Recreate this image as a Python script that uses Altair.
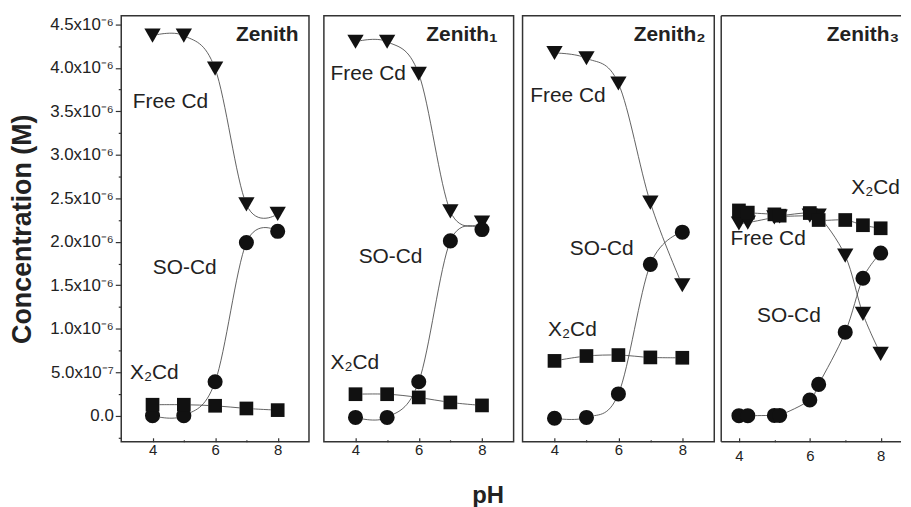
import altair as alt
import pandas as pd

# ---------------- data (concentrations in units of 1e-6 M) ----------------
panel_names = ["Zenith", "Zenith₁", "Zenith₂", "Zenith₃"]
series_names = ["Free Cd", "SO-Cd", "X₂Cd"]

ph_std = [4, 5, 6, 7, 8]
ph_z3 = [4.0, 4.25, 5.0, 5.15, 6.0, 6.25, 7.0, 7.5, 8.0]

z0_free = [4.37, 4.37, 3.99, 2.43, 2.32]
z0_so = [0.00, 0.00, 0.39, 1.99, 2.12]
z0_x2 = [0.126, 0.126, 0.114, 0.083, 0.064]

z1_free = [4.30, 4.30, 3.93, 2.35, 2.22]
z1_so = [-0.02, -0.02, 0.39, 2.01, 2.14]
z1_x2 = [0.247, 0.247, 0.210, 0.152, 0.118]

z2_free = [4.17, 4.11, 3.82, 2.45, 1.50]
z2_so = [-0.03, -0.02, 0.25, 1.74, 2.11]
z2_x2 = [0.630, 0.686, 0.697, 0.670, 0.666]

z3_free = [2.21, 2.22, 2.28, 2.29, 2.30, 2.30, 1.84, 1.17, 0.71]
z3_so = [0.00, 0.00, 0.003, 0.003, 0.18, 0.36, 0.96, 1.58, 1.87]
z3_x2 = [2.36, 2.335, 2.315, 2.30, 2.33, 2.25, 2.25, 2.19, 2.155]

# in-panel series label anchors (pH, concentration)
lbl_free_x = [3.37, 3.21, 3.24, 3.76]
lbl_free_y = [3.61, 3.93, 3.67, 2.03]
lbl_so_x = [4.01, 4.10, 4.48, 4.51]
lbl_so_y = [1.70, 1.82, 1.92, 1.15]
lbl_x2_x = [3.28, 3.21, 3.80, 7.17]
lbl_x2_y = [0.49, 0.60, 0.99, 2.62]

panel_ph = [ph_std, ph_std, ph_std, ph_z3]
panel_vals = [
    (z0_free, z0_so, z0_x2),
    (z1_free, z1_so, z1_x2),
    (z2_free, z2_so, z2_x2),
    (z3_free, z3_so, z3_x2),
]

# ---------------- layout / style ----------------
FONT = "Liberation Sans"
widths = [189, 191, 193, 181]
x_domains = [[3, 9], [3, 9], [3, 9], [3.5, 3.5 + 181 / 35.67]]
title_x = [147, 139, 148, 179]
title_align = ["center", "center", "center", "right"]
H = 429
Y_DOMAIN = [-0.3, 4.6]

shape_scale = alt.Scale(domain=series_names, range=["triangle-down", "circle", "square"])
size_black = alt.Scale(domain=series_names, range=[120, 90, 72])
size_halo = alt.Scale(domain=series_names, range=[270, 190, 160])

y_vals = [-0.25 + 0.25 * k for k in range(20)]
minor_test = "abs(datum.value * 4 % 2) == 1"
y_label_expr = (
    "abs(datum.value * 4 % 2) == 1 ? '' : datum.value == 0 ? '0.0' : "
    "datum.value == 0.5 ? '5.0x10⁻⁷' : format(datum.value, '.1f') + 'x10⁻⁶'"
)
FRAME = "#333"


def make_panel(i):
    recs = []
    for sname, vals in zip(series_names, panel_vals[i]):
        for p, v in zip(panel_ph[i], vals):
            recs.append({"series": sname, "pH": p, "conc": v})
    df = pd.DataFrame(recs)

    lbl = pd.DataFrame({
        "text": series_names,
        "pH": [lbl_free_x[i], lbl_so_x[i], lbl_x2_x[i]],
        "conc": [lbl_free_y[i], lbl_so_y[i], lbl_x2_y[i]],
    })

    x_axis = alt.Axis(
        values=[4, 5, 6, 7, 8],
        labelExpr="datum.value % 2 == 1 ? '' : datum.label",
        tickSize={"condition": {"test": "datum.value % 2 == 1", "value": -2}, "value": -4},
        domain=False, grid=False, title=None, labelOverlap=False,
        labelFontSize=15, labelFont=FONT, labelColor="#222",
        tickColor="#333", tickWidth=1.2,
        labelPadding=5 if i < 3 else 11,
    )
    if i == 0:
        y_axis = alt.Axis(
            values=y_vals, labelExpr=y_label_expr, labelOverlap=False,
            tickSize=6,
            tickDash={"condition": {"test": minor_test, "value": [3, 20]}, "value": []},
            domain=False, grid=False,
            labelFontSize=17, labelFont=FONT, labelColor="#222",
            tickColor="#333", tickWidth=1.2, labelPadding=2,
            title="Concentration (M)", titleFontSize=27, titleFont=FONT,
            titleFontWeight="bold", titleColor="#222", titlePadding=13,
        )
    else:
        y_axis = None

    x = alt.X("pH:Q", scale=alt.Scale(domain=x_domains[i], nice=False, zero=False), axis=x_axis)
    y = alt.Y("conc:Q", scale=alt.Scale(domain=Y_DOMAIN, nice=False, zero=False), axis=y_axis)

    base = alt.Chart(df)
    lines = base.mark_line(interpolate="cardinal", color="#3a3a3a", strokeWidth=0.8).encode(
        x=x, y=y, detail="series:N"
    )
    halo = base.mark_point(filled=True, color="white", opacity=1).encode(
        x=x, y=y,
        shape=alt.Shape("series:N", scale=shape_scale, legend=None),
        size=alt.Size("series:N", scale=size_halo, legend=None),
    )
    pts = base.mark_point(filled=True, color="#111", opacity=1).encode(
        x=x, y=y,
        shape=alt.Shape("series:N", scale=shape_scale, legend=None),
        size=alt.Size("series:N", scale=size_black, legend=None),
    )
    labels = alt.Chart(lbl).mark_text(
        align="left", baseline="middle", fontSize=21, font=FONT, color="#222"
    ).encode(x=x, y=y, text="text:N")
    ttl = alt.Chart(pd.DataFrame({"t": [panel_names[i]]})).mark_text(
        align=title_align[i], baseline="middle", fontSize=21, font=FONT,
        fontWeight="bold", color="#222",
    ).encode(x=alt.value(title_x[i]), y=alt.value(20), text="t:N")

    layers = [lines, halo, pts, labels, ttl]
    w = widths[i]
    if i == 3:
        # last panel is cut off at the page edge: frame on left, top and bottom only
        one = alt.Chart(pd.DataFrame({"k": [0]}))
        layers += [
            one.mark_rule(color=FRAME, strokeWidth=1.5).encode(
                x=alt.value(0), y=alt.value(0), y2=alt.value(H)),
            one.mark_rule(color=FRAME, strokeWidth=1.5).encode(
                x=alt.value(0), x2=alt.value(w), y=alt.value(0)),
            one.mark_rule(color=FRAME, strokeWidth=1.5).encode(
                x=alt.value(0), x2=alt.value(w), y=alt.value(H)),
        ]
        return alt.layer(*layers).properties(
            width=w, height=H, view=alt.ViewBackground(stroke="transparent"))
    return alt.layer(*layers).properties(width=w, height=H)


p = [make_panel(i) for i in range(4)]
left = alt.hconcat(p[0], p[1], spacing=13)
right = alt.hconcat(p[2], p[3], spacing=4)
chart = alt.hconcat(left, right, spacing=7).properties(
    title=alt.TitleParams(
        "pH", orient="bottom", anchor="middle", fontSize=24, font=FONT,
        fontWeight="bold", color="#222", dx=33, offset=18,
    ),
    padding={"left": 0, "top": 4, "right": 0, "bottom": 0},
).configure(
    font=FONT,
    view=alt.ViewConfig(stroke=FRAME, strokeWidth=1.5),
)

chart.save("out.html", embed_options={"renderer": "svg", "actions": False})
